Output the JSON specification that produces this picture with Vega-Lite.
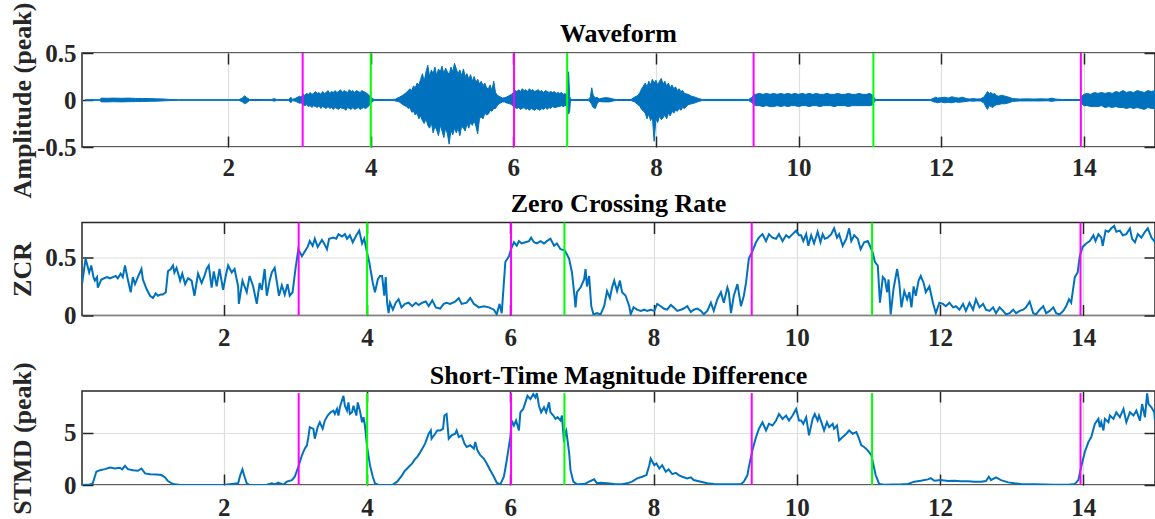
{
  "$schema": "https://vega.github.io/schema/vega-lite/v6.json",
  "padding": {"left": 8, "top": 1, "right": 0, "bottom": 0},
  "spacing": 75.5,
  "bounds": "flush",
  "config": {
    "view": {"stroke": "#262626", "strokeWidth": 1.5},
    "title": {"font": "Liberation Serif", "fontSize": 26, "fontWeight": "bold", "color": "#000000", "anchor": "middle"},
    "axis": {
      "labelFont": "Liberation Serif", "labelFontSize": 25, "labelFontWeight": "bold", "labelColor": "#262626",
      "titleFont": "Liberation Serif", "titleFontSize": 26, "titleFontWeight": "bold", "titleColor": "#262626",
      "tickColor": "#262626", "tickWidth": 1.5, "tickSize": -11, "domain": false,
      "gridColor": "#dedede", "gridWidth": 1.2
    },
    "legend": {"disable": true}
  },
  "datasets": {
    "markers": [
      {"t": 3.045, "kind": "start"}, {"t": 4.0, "kind": "end"},
      {"t": 6.01, "kind": "start"}, {"t": 6.755, "kind": "end"},
      {"t": 9.37, "kind": "start"}, {"t": 11.05, "kind": "end"},
      {"t": 13.96, "kind": "start"}
    ],
    "wave": [
      {"t":0,"h":0.003,"l":-0.003},{"t":0.2,"h":0.003,"l":-0.003},{"t":0.22,"h":0.02,"l":-0.02},{"t":0.3,"h":0.018,"l":-0.02},{"t":0.4,"h":0.02,"l":-0.018},{"t":0.5,"h":0.018,"l":-0.02},{"t":0.6,"h":0.02,"l":-0.018},{"t":0.7,"h":0.017,"l":-0.017},{"t":0.8,"h":0.016,"l":-0.016},{"t":0.9,"h":0.015,"l":-0.014},{"t":1.0,"h":0.012,"l":-0.012},{"t":1.1,"h":0.01,"l":-0.009},{"t":1.2,"h":0.005,"l":-0.005},{"t":1.3,"h":0.003,"l":-0.003},
      {"t":2.15,"h":0.003,"l":-0.003},{"t":2.2,"h":0.02,"l":-0.02},{"t":2.23,"h":0.045,"l":-0.04},{"t":2.26,"h":0.025,"l":-0.03},{"t":2.3,"h":0.006,"l":-0.005},{"t":2.6,"h":0.004,"l":-0.004},{"t":2.65,"h":0.015,"l":-0.012},{"t":2.68,"h":0.004,"l":-0.004},{"t":2.85,"h":0.004,"l":-0.004},{"t":2.88,"h":0.03,"l":-0.03},{"t":2.9,"h":0.006,"l":-0.006},{"t":2.95,"h":0.02,"l":-0.015},{"t":3.0,"h":0.04,"l":-0.035},
      {"t":3.025,"h":0.03,"l":-0.03},{"t":3.05,"h":0.06,"l":-0.05},{"t":3.075,"h":0.05,"l":-0.06},{"t":3.1,"h":0.07,"l":-0.05},{"t":3.125,"h":0.06,"l":-0.07},{"t":3.15,"h":0.08,"l":-0.06},{"t":3.175,"h":0.06,"l":-0.08},{"t":3.2,"h":0.07,"l":-0.06},{"t":3.225,"h":0.09,"l":-0.07},{"t":3.25,"h":0.07,"l":-0.08},{"t":3.275,"h":0.08,"l":-0.06},{"t":3.3,"h":0.06,"l":-0.09},{"t":3.325,"h":0.09,"l":-0.07},{"t":3.35,"h":0.07,"l":-0.08},{"t":3.375,"h":0.08,"l":-0.09},{"t":3.4,"h":0.1,"l":-0.07},{"t":3.425,"h":0.07,"l":-0.09},{"t":3.45,"h":0.09,"l":-0.08},{"t":3.475,"h":0.08,"l":-0.1},{"t":3.5,"h":0.1,"l":-0.08},{"t":3.525,"h":0.08,"l":-0.09},{"t":3.55,"h":0.09,"l":-0.1},{"t":3.575,"h":0.11,"l":-0.08},{"t":3.6,"h":0.08,"l":-0.09},{"t":3.625,"h":0.1,"l":-0.09},{"t":3.65,"h":0.09,"l":-0.11},{"t":3.675,"h":0.08,"l":-0.08},{"t":3.7,"h":0.11,"l":-0.09},{"t":3.725,"h":0.09,"l":-0.1},{"t":3.75,"h":0.1,"l":-0.08},{"t":3.775,"h":0.08,"l":-0.1},{"t":3.8,"h":0.1,"l":-0.09},{"t":3.825,"h":0.09,"l":-0.08},{"t":3.85,"h":0.08,"l":-0.1},{"t":3.875,"h":0.1,"l":-0.09},{"t":3.9,"h":0.09,"l":-0.08},{"t":3.925,"h":0.08,"l":-0.09},{"t":3.95,"h":0.07,"l":-0.08},{"t":3.975,"h":0.05,"l":-0.06},{"t":4.0,"h":0.03,"l":-0.04},{"t":4.025,"h":0.015,"l":-0.015},{"t":4.05,"h":0.005,"l":-0.005},{"t":4.3,"h":0.004,"l":-0.004},
      {"t":4.35,"h":0.01,"l":-0.01},{"t":4.4,"h":0.03,"l":-0.02},{"t":4.45,"h":0.05,"l":-0.05},{"t":4.5,"h":0.08,"l":-0.07},{"t":4.525,"h":0.1,"l":-0.09},{"t":4.55,"h":0.12,"l":-0.08},{"t":4.575,"h":0.1,"l":-0.13},{"t":4.6,"h":0.15,"l":-0.12},{"t":4.625,"h":0.13,"l":-0.16},{"t":4.65,"h":0.18,"l":-0.14},{"t":4.675,"h":0.16,"l":-0.2},{"t":4.7,"h":0.22,"l":-0.17},{"t":4.725,"h":0.28,"l":-0.22},{"t":4.75,"h":0.2,"l":-0.25},{"t":4.775,"h":0.3,"l":-0.2},{"t":4.8,"h":0.37,"l":-0.27},{"t":4.825,"h":0.25,"l":-0.3},{"t":4.85,"h":0.32,"l":-0.24},{"t":4.875,"h":0.28,"l":-0.35},{"t":4.9,"h":0.35,"l":-0.28},{"t":4.925,"h":0.26,"l":-0.32},{"t":4.95,"h":0.33,"l":-0.38},{"t":4.975,"h":0.3,"l":-0.27},{"t":5.0,"h":0.36,"l":-0.33},{"t":5.025,"h":0.28,"l":-0.4},{"t":5.05,"h":0.34,"l":-0.3},{"t":5.075,"h":0.3,"l":-0.36},{"t":5.1,"h":0.27,"l":-0.47},{"t":5.125,"h":0.35,"l":-0.32},{"t":5.15,"h":0.3,"l":-0.37},{"t":5.175,"h":0.39,"l":-0.3},{"t":5.2,"h":0.33,"l":-0.35},{"t":5.225,"h":0.28,"l":-0.3},{"t":5.25,"h":0.32,"l":-0.38},{"t":5.275,"h":0.26,"l":-0.28},{"t":5.3,"h":0.33,"l":-0.3},{"t":5.325,"h":0.25,"l":-0.33},{"t":5.35,"h":0.28,"l":-0.25},{"t":5.375,"h":0.22,"l":-0.3},{"t":5.4,"h":0.27,"l":-0.24},{"t":5.425,"h":0.2,"l":-0.27},{"t":5.45,"h":0.25,"l":-0.22},{"t":5.475,"h":0.19,"l":-0.28},{"t":5.5,"h":0.22,"l":-0.36},{"t":5.525,"h":0.17,"l":-0.2},{"t":5.55,"h":0.2,"l":-0.18},{"t":5.575,"h":0.15,"l":-0.2},{"t":5.6,"h":0.18,"l":-0.14},{"t":5.625,"h":0.13,"l":-0.16},{"t":5.65,"h":0.12,"l":-0.15},{"t":5.675,"h":0.16,"l":-0.11},{"t":5.7,"h":0.1,"l":-0.12},{"t":5.725,"h":0.2,"l":-0.09},{"t":5.75,"h":0.08,"l":-0.09},{"t":5.775,"h":0.05,"l":-0.06},{"t":5.8,"h":0.04,"l":-0.04},{"t":5.825,"h":0.03,"l":-0.03},{"t":5.85,"h":0.02,"l":-0.02},{"t":5.875,"h":0.025,"l":-0.02},{"t":5.9,"h":0.03,"l":-0.03},{"t":5.925,"h":0.04,"l":-0.035},{"t":5.95,"h":0.05,"l":-0.04},{"t":5.975,"h":0.06,"l":-0.05},
      {"t":6.0,"h":0.08,"l":-0.07},{"t":6.025,"h":0.1,"l":-0.08},{"t":6.05,"h":0.09,"l":-0.09},{"t":6.075,"h":0.11,"l":-0.08},{"t":6.1,"h":0.09,"l":-0.1},{"t":6.125,"h":0.12,"l":-0.09},{"t":6.15,"h":0.1,"l":-0.08},{"t":6.175,"h":0.11,"l":-0.1},{"t":6.2,"h":0.09,"l":-0.09},{"t":6.225,"h":0.12,"l":-0.11},{"t":6.25,"h":0.1,"l":-0.09},{"t":6.275,"h":0.11,"l":-0.1},{"t":6.3,"h":0.09,"l":-0.11},{"t":6.325,"h":0.1,"l":-0.09},{"t":6.35,"h":0.11,"l":-0.1},{"t":6.375,"h":0.09,"l":-0.11},{"t":6.4,"h":0.1,"l":-0.09},{"t":6.425,"h":0.08,"l":-0.1},{"t":6.45,"h":0.1,"l":-0.08},{"t":6.475,"h":0.09,"l":-0.1},{"t":6.5,"h":0.08,"l":-0.08},{"t":6.525,"h":0.09,"l":-0.09},{"t":6.55,"h":0.08,"l":-0.07},{"t":6.575,"h":0.09,"l":-0.08},{"t":6.6,"h":0.07,"l":-0.08},{"t":6.625,"h":0.08,"l":-0.07},{"t":6.65,"h":0.07,"l":-0.07},{"t":6.675,"h":0.08,"l":-0.06},{"t":6.7,"h":0.06,"l":-0.07},{"t":6.725,"h":0.07,"l":-0.06},{"t":6.75,"h":0.05,"l":-0.05},{"t":6.775,"h":0.3,"l":-0.15},{"t":6.79,"h":0.04,"l":-0.12},{"t":6.8,"h":0.01,"l":-0.01},{"t":6.825,"h":0.005,"l":-0.005},
      {"t":7.05,"h":0.005,"l":-0.005},{"t":7.08,"h":0.03,"l":-0.02},{"t":7.1,"h":0.13,"l":-0.05},{"t":7.12,"h":0.05,"l":-0.08},{"t":7.15,"h":0.02,"l":-0.09},{"t":7.175,"h":0.03,"l":-0.04},{"t":7.2,"h":0.01,"l":-0.015},{"t":7.25,"h":0.02,"l":-0.02},{"t":7.3,"h":0.025,"l":-0.02},{"t":7.35,"h":0.02,"l":-0.02},{"t":7.4,"h":0.01,"l":-0.01},{"t":7.45,"h":0.005,"l":-0.005},{"t":7.65,"h":0.005,"l":-0.005},{"t":7.7,"h":0.03,"l":-0.02},
      {"t":7.75,"h":0.05,"l":-0.05},{"t":7.775,"h":0.08,"l":-0.07},{"t":7.8,"h":0.12,"l":-0.1},{"t":7.825,"h":0.15,"l":-0.12},{"t":7.85,"h":0.18,"l":-0.14},{"t":7.875,"h":0.14,"l":-0.2},{"t":7.9,"h":0.2,"l":-0.15},{"t":7.925,"h":0.16,"l":-0.22},{"t":7.95,"h":0.22,"l":-0.18},{"t":7.975,"h":0.18,"l":-0.44},{"t":8.0,"h":0.21,"l":-0.2},{"t":8.025,"h":0.16,"l":-0.24},{"t":8.05,"h":0.2,"l":-0.17},{"t":8.075,"h":0.23,"l":-0.21},{"t":8.1,"h":0.17,"l":-0.19},{"t":8.125,"h":0.2,"l":-0.16},{"t":8.15,"h":0.15,"l":-0.2},{"t":8.175,"h":0.18,"l":-0.14},{"t":8.2,"h":0.13,"l":-0.17},{"t":8.225,"h":0.16,"l":-0.12},{"t":8.25,"h":0.12,"l":-0.14},{"t":8.275,"h":0.14,"l":-0.11},{"t":8.3,"h":0.1,"l":-0.12},{"t":8.325,"h":0.12,"l":-0.09},{"t":8.35,"h":0.09,"l":-0.11},{"t":8.375,"h":0.1,"l":-0.08},{"t":8.4,"h":0.07,"l":-0.09},{"t":8.45,"h":0.06,"l":-0.05},{"t":8.5,"h":0.04,"l":-0.04},{"t":8.55,"h":0.03,"l":-0.03},{"t":8.6,"h":0.015,"l":-0.015},{"t":8.65,"h":0.006,"l":-0.006},
      {"t":9.3,"h":0.006,"l":-0.006},{"t":9.35,"h":0.03,"l":-0.03},{"t":9.375,"h":0.06,"l":-0.05},{"t":9.4,"h":0.06,"l":-0.06},{"t":9.45,"h":0.07,"l":-0.06},{"t":9.5,"h":0.06,"l":-0.07},{"t":9.55,"h":0.07,"l":-0.06},{"t":9.6,"h":0.06,"l":-0.07},{"t":9.65,"h":0.07,"l":-0.07},{"t":9.7,"h":0.06,"l":-0.06},{"t":9.75,"h":0.07,"l":-0.07},{"t":9.8,"h":0.06,"l":-0.06},{"t":9.85,"h":0.07,"l":-0.07},{"t":9.9,"h":0.06,"l":-0.06},{"t":9.95,"h":0.07,"l":-0.06},{"t":10.0,"h":0.06,"l":-0.07},{"t":10.05,"h":0.07,"l":-0.06},{"t":10.1,"h":0.06,"l":-0.06},{"t":10.15,"h":0.07,"l":-0.07},{"t":10.2,"h":0.06,"l":-0.06},{"t":10.25,"h":0.07,"l":-0.06},{"t":10.3,"h":0.06,"l":-0.07},{"t":10.35,"h":0.06,"l":-0.06},{"t":10.4,"h":0.07,"l":-0.06},{"t":10.45,"h":0.06,"l":-0.06},{"t":10.5,"h":0.06,"l":-0.07},{"t":10.55,"h":0.07,"l":-0.06},{"t":10.6,"h":0.06,"l":-0.06},{"t":10.65,"h":0.06,"l":-0.06},{"t":10.7,"h":0.07,"l":-0.07},{"t":10.75,"h":0.06,"l":-0.06},{"t":10.8,"h":0.06,"l":-0.06},{"t":10.85,"h":0.07,"l":-0.06},{"t":10.9,"h":0.06,"l":-0.06},{"t":10.95,"h":0.06,"l":-0.06},{"t":11.0,"h":0.07,"l":-0.06},{"t":11.04,"h":0.05,"l":-0.05},{"t":11.07,"h":0.01,"l":-0.01},{"t":11.1,"h":0.005,"l":-0.005},
      {"t":11.85,"h":0.005,"l":-0.005},{"t":11.9,"h":0.02,"l":-0.02},{"t":11.925,"h":0.03,"l":-0.025},{"t":11.95,"h":0.02,"l":-0.03},{"t":12.0,"h":0.025,"l":-0.02},{"t":12.05,"h":0.03,"l":-0.03},{"t":12.1,"h":0.02,"l":-0.025},{"t":12.15,"h":0.035,"l":-0.03},{"t":12.2,"h":0.025,"l":-0.02},{"t":12.25,"h":0.02,"l":-0.025},{"t":12.3,"h":0.03,"l":-0.02},{"t":12.35,"h":0.015,"l":-0.015},{"t":12.4,"h":0.01,"l":-0.01},{"t":12.45,"h":0.015,"l":-0.012},{"t":12.5,"h":0.01,"l":-0.01},{"t":12.55,"h":0.012,"l":-0.01},{"t":12.6,"h":0.03,"l":-0.03},{"t":12.625,"h":0.06,"l":-0.07},{"t":12.65,"h":0.09,"l":-0.1},{"t":12.675,"h":0.07,"l":-0.06},{"t":12.7,"h":0.08,"l":-0.07},{"t":12.725,"h":0.06,"l":-0.08},{"t":12.75,"h":0.07,"l":-0.06},{"t":12.775,"h":0.05,"l":-0.05},{"t":12.8,"h":0.04,"l":-0.05},{"t":12.85,"h":0.05,"l":-0.04},{"t":12.9,"h":0.04,"l":-0.04},{"t":12.95,"h":0.03,"l":-0.03},{"t":13.0,"h":0.015,"l":-0.015},{"t":13.1,"h":0.01,"l":-0.01},{"t":13.2,"h":0.012,"l":-0.01},{"t":13.3,"h":0.01,"l":-0.01},{"t":13.4,"h":0.012,"l":-0.01},{"t":13.5,"h":0.01,"l":-0.008},{"t":13.55,"h":0.02,"l":-0.015},{"t":13.6,"h":0.01,"l":-0.008},{"t":13.7,"h":0.005,"l":-0.005},
      {"t":13.95,"h":0.005,"l":-0.005},{"t":13.975,"h":0.04,"l":-0.04},{"t":14.0,"h":0.06,"l":-0.06},{"t":14.05,"h":0.07,"l":-0.06},{"t":14.1,"h":0.06,"l":-0.07},{"t":14.15,"h":0.08,"l":-0.07},{"t":14.2,"h":0.07,"l":-0.07},{"t":14.25,"h":0.08,"l":-0.06},{"t":14.3,"h":0.07,"l":-0.08},{"t":14.35,"h":0.08,"l":-0.07},{"t":14.4,"h":0.07,"l":-0.08},{"t":14.45,"h":0.09,"l":-0.07},{"t":14.5,"h":0.08,"l":-0.08},{"t":14.55,"h":0.1,"l":-0.08},{"t":14.6,"h":0.08,"l":-0.09},{"t":14.65,"h":0.09,"l":-0.08},{"t":14.7,"h":0.08,"l":-0.09},{"t":14.75,"h":0.1,"l":-0.08},{"t":14.8,"h":0.09,"l":-0.09},{"t":14.85,"h":0.08,"l":-0.1},{"t":14.9,"h":0.1,"l":-0.08},{"t":14.95,"h":0.09,"l":-0.09},{"t":15.0,"h":0.1,"l":-0.09}
    ],
    "zcr": [
      {"t":0.02,"v":0.27},{"t":0.05,"v":0.4},{"t":0.07,"v":0.49},{"t":0.1,"v":0.42},{"t":0.12,"v":0.37},{"t":0.15,"v":0.43},{"t":0.18,"v":0.33},{"t":0.2,"v":0.3},{"t":0.23,"v":0.33},{"t":0.24,"v":0.24},{"t":0.27,"v":0.28},{"t":0.29,"v":0.31},{"t":0.33,"v":0.32},{"t":0.37,"v":0.33},{"t":0.41,"v":0.32},{"t":0.45,"v":0.33},{"t":0.49,"v":0.34},{"t":0.52,"v":0.32},{"t":0.56,"v":0.36},{"t":0.59,"v":0.33},{"t":0.62,"v":0.43},{"t":0.66,"v":0.31},{"t":0.7,"v":0.2},{"t":0.73,"v":0.33},{"t":0.76,"v":0.27},{"t":0.8,"v":0.33},{"t":0.85,"v":0.4},{"t":0.87,"v":0.31},{"t":0.92,"v":0.23},{"t":0.97,"v":0.17},{"t":1.01,"v":0.15},{"t":1.05,"v":0.19},{"t":1.08,"v":0.17},{"t":1.12,"v":0.18},{"t":1.15,"v":0.18},{"t":1.19,"v":0.2},{"t":1.22,"v":0.38},{"t":1.26,"v":0.4},{"t":1.29,"v":0.43},{"t":1.31,"v":0.37},{"t":1.34,"v":0.41},{"t":1.39,"v":0.3},{"t":1.42,"v":0.36},{"t":1.46,"v":0.27},{"t":1.5,"v":0.32},{"t":1.55,"v":0.3},{"t":1.59,"v":0.17},{"t":1.64,"v":0.36},{"t":1.69,"v":0.28},{"t":1.73,"v":0.34},{"t":1.76,"v":0.4},{"t":1.79,"v":0.43},{"t":1.83,"v":0.24},{"t":1.86,"v":0.38},{"t":1.9,"v":0.25},{"t":1.94,"v":0.4},{"t":1.99,"v":0.22},{"t":2.03,"v":0.35},{"t":2.06,"v":0.43},{"t":2.11,"v":0.37},{"t":2.15,"v":0.4},{"t":2.2,"v":0.25},{"t":2.21,"v":0.1},{"t":2.26,"v":0.3},{"t":2.32,"v":0.2},{"t":2.36,"v":0.34},{"t":2.41,"v":0.25},{"t":2.46,"v":0.1},{"t":2.5,"v":0.28},{"t":2.53,"v":0.22},{"t":2.57,"v":0.4},{"t":2.6,"v":0.17},{"t":2.64,"v":0.3},{"t":2.67,"v":0.37},{"t":2.71,"v":0.41},{"t":2.77,"v":0.17},{"t":2.81,"v":0.26},{"t":2.85,"v":0.18},{"t":2.89,"v":0.27},{"t":2.92,"v":0.17},{"t":2.96,"v":0.2},{"t":3.0,"v":0.4},{"t":3.04,"v":0.57},{"t":3.09,"v":0.51},{"t":3.13,"v":0.55},{"t":3.17,"v":0.59},{"t":3.2,"v":0.64},{"t":3.24,"v":0.6},{"t":3.27,"v":0.66},{"t":3.31,"v":0.59},{"t":3.37,"v":0.65},{"t":3.4,"v":0.62},{"t":3.44,"v":0.57},{"t":3.47,"v":0.66},{"t":3.53,"v":0.67},{"t":3.57,"v":0.66},{"t":3.6,"v":0.7},{"t":3.65,"v":0.68},{"t":3.69,"v":0.7},{"t":3.72,"v":0.66},{"t":3.76,"v":0.69},{"t":3.8,"v":0.63},{"t":3.85,"v":0.69},{"t":3.89,"v":0.73},{"t":3.93,"v":0.62},{"t":3.96,"v":0.66},{"t":4.0,"v":0.54},{"t":4.03,"v":0.46},{"t":4.08,"v":0.28},{"t":4.11,"v":0.2},{"t":4.15,"v":0.31},{"t":4.18,"v":0.34},{"t":4.21,"v":0.34},{"t":4.24,"v":0.17},{"t":4.26,"v":0.33},{"t":4.28,"v":0.11},{"t":4.3,"v":0.02},{"t":4.32,"v":0.11},{"t":4.36,"v":0.05},{"t":4.4,"v":0.11},{"t":4.44,"v":0.14},{"t":4.48,"v":0.07},{"t":4.53,"v":0.1},{"t":4.58,"v":0.11},{"t":4.63,"v":0.08},{"t":4.68,"v":0.11},{"t":4.72,"v":0.09},{"t":4.77,"v":0.11},{"t":4.82,"v":0.12},{"t":4.86,"v":0.08},{"t":4.91,"v":0.13},{"t":4.96,"v":0.07},{"t":5.02,"v":0.06},{"t":5.07,"v":0.1},{"t":5.11,"v":0.11},
      {"t":5.16,"v":0.1},{"t":5.23,"v":0.12},{"t":5.28,"v":0.15},{"t":5.32,"v":0.1},{"t":5.39,"v":0.11},{"t":5.44,"v":0.15},{"t":5.49,"v":0.1},{"t":5.56,"v":0.07},{"t":5.63,"v":0.08},{"t":5.7,"v":0.07},{"t":5.77,"v":0.05},{"t":5.81,"v":0.01},{"t":5.85,"v":0.1},{"t":5.88,"v":0.02},{"t":5.93,"v":0.46},{"t":5.98,"v":0.51},{"t":6.01,"v":0.57},{"t":6.05,"v":0.63},{"t":6.09,"v":0.6},{"t":6.12,"v":0.64},{"t":6.16,"v":0.62},{"t":6.21,"v":0.63},{"t":6.26,"v":0.64},{"t":6.29,"v":0.67},{"t":6.33,"v":0.63},{"t":6.37,"v":0.62},{"t":6.42,"v":0.64},{"t":6.47,"v":0.62},{"t":6.51,"v":0.64},{"t":6.56,"v":0.66},{"t":6.61,"v":0.6},{"t":6.65,"v":0.62},{"t":6.7,"v":0.57},{"t":6.76,"v":0.56},{"t":6.82,"v":0.49},{"t":6.86,"v":0.37},{"t":6.89,"v":0.2},{"t":6.91,"v":0.07},{"t":6.93,"v":0.2},{"t":6.98,"v":0.24},{"t":7.03,"v":0.31},{"t":7.05,"v":0.4},{"t":7.07,"v":0.25},{"t":7.1,"v":0.34},{"t":7.13,"v":0.08},{"t":7.16,"v":0.01},{"t":7.21,"v":0.02},{"t":7.26,"v":0.01},{"t":7.31,"v":0.08},{"t":7.35,"v":0.21},{"t":7.39,"v":0.15},{"t":7.42,"v":0.24},{"t":7.45,"v":0.3},{"t":7.49,"v":0.21},{"t":7.53,"v":0.3},{"t":7.56,"v":0.2},{"t":7.61,"v":0.17},{"t":7.66,"v":0.08},{"t":7.68,"v":0.01},{"t":7.72,"v":0.07},{"t":7.77,"v":0.05},{"t":7.82,"v":0.04},{"t":7.87,"v":0.05},{"t":7.91,"v":0.04},{"t":7.96,"v":0.05},{"t":8.01,"v":0.04},{"t":8.05,"v":0.1},{"t":8.1,"v":0.08},{"t":8.14,"v":0.06},{"t":8.19,"v":0.05},{"t":8.24,"v":0.09},{"t":8.28,"v":0.07},{"t":8.33,"v":0.04},{"t":8.38,"v":0.05},{"t":8.42,"v":0.06},{"t":8.47,"v":0.08},{"t":8.52,"v":0.03},{"t":8.56,"v":0.05},{"t":8.61,"v":0.06},{"t":8.66,"v":0.04},{"t":8.7,"v":0.01},{"t":8.75,"v":0.04},{"t":8.8,"v":0.11},{"t":8.84,"v":0.04},{"t":8.89,"v":0.14},{"t":8.94,"v":0.2},{"t":8.98,"v":0.11},{"t":9.03,"v":0.24},{"t":9.05,"v":0.2},{"t":9.08,"v":0.02},{"t":9.12,"v":0.17},{"t":9.17,"v":0.27},{"t":9.22,"v":0.08},{"t":9.26,"v":0.17},{"t":9.29,"v":0.28},{"t":9.33,"v":0.49},{"t":9.37,"v":0.54},{"t":9.43,"v":0.63},{"t":9.47,"v":0.67},{"t":9.52,"v":0.7},{"t":9.57,"v":0.64},{"t":9.61,"v":0.7},{"t":9.66,"v":0.67},{"t":9.71,"v":0.66},{"t":9.75,"v":0.7},{"t":9.8,"v":0.64},{"t":9.85,"v":0.69},{"t":9.89,"v":0.67},{"t":9.94,"v":0.7},{"t":9.99,"v":0.73},{"t":10.03,"v":0.69},
      {"t":10.06,"v":0.69},{"t":10.09,"v":0.64},{"t":10.13,"v":0.7},{"t":10.16,"v":0.6},{"t":10.2,"v":0.69},{"t":10.24,"v":0.62},{"t":10.29,"v":0.72},{"t":10.33,"v":0.63},{"t":10.36,"v":0.7},{"t":10.39,"v":0.66},{"t":10.43,"v":0.67},{"t":10.48,"v":0.7},{"t":10.52,"v":0.75},{"t":10.56,"v":0.67},{"t":10.59,"v":0.7},{"t":10.64,"v":0.6},{"t":10.69,"v":0.66},{"t":10.73,"v":0.75},{"t":10.76,"v":0.64},{"t":10.8,"v":0.69},{"t":10.85,"v":0.66},{"t":10.89,"v":0.57},{"t":10.94,"v":0.63},{"t":10.99,"v":0.64},{"t":11.02,"v":0.6},{"t":11.06,"v":0.54},{"t":11.09,"v":0.46},{"t":11.13,"v":0.43},{"t":11.16,"v":0.11},{"t":11.2,"v":0.33},{"t":11.23,"v":0.31},{"t":11.26,"v":0.2},{"t":11.28,"v":0.31},{"t":11.31,"v":0.01},{"t":11.35,"v":0.23},{"t":11.4,"v":0.4},{"t":11.43,"v":0.28},{"t":11.46,"v":0.07},{"t":11.5,"v":0.21},{"t":11.54,"v":0.14},{"t":11.57,"v":0.2},{"t":11.6,"v":0.07},{"t":11.63,"v":0.25},{"t":11.66,"v":0.17},{"t":11.7,"v":0.3},{"t":11.73,"v":0.34},{"t":11.77,"v":0.28},{"t":11.8,"v":0.2},{"t":11.85,"v":0.25},{"t":11.9,"v":0.11},{"t":11.94,"v":0.02},{"t":11.99,"v":0.11},{"t":12.04,"v":0.1},{"t":12.08,"v":0.08},{"t":12.13,"v":0.11},{"t":12.18,"v":0.07},{"t":12.22,"v":0.08},{"t":12.27,"v":0.05},{"t":12.32,"v":0.1},{"t":12.36,"v":0.04},{"t":12.41,"v":0.11},{"t":12.46,"v":0.05},{"t":12.5,"v":0.14},{"t":12.55,"v":0.07},{"t":12.6,"v":0.1},{"t":12.64,"v":0.05},{"t":12.69,"v":0.04},{"t":12.74,"v":0.07},{"t":12.78,"v":0.02},{"t":12.83,"v":0.07},{"t":12.88,"v":0.04},{"t":12.92,"v":0.01},{"t":12.97,"v":0.02},{"t":13.02,"v":0.05},{"t":13.06,"v":0.02},{"t":13.11,"v":0.04},{"t":13.16,"v":0.05},{"t":13.2,"v":0.07},{"t":13.25,"v":0.12},{"t":13.3,"v":0.02},{"t":13.34,"v":0.01},{"t":13.39,"v":0.05},{"t":13.44,"v":0.08},{"t":13.48,"v":0.02},{"t":13.53,"v":0.04},{"t":13.58,"v":0.07},{"t":13.62,"v":0.02},{"t":13.67,"v":0.01},{"t":13.72,"v":0.04},{"t":13.76,"v":0.08},{"t":13.8,"v":0.14},{"t":13.83,"v":0.11},{"t":13.88,"v":0.33},{"t":13.92,"v":0.37},{"t":13.95,"v":0.51},{"t":13.99,"v":0.59},{"t":14.04,"v":0.62},{"t":14.09,"v":0.64},{"t":14.14,"v":0.69},{"t":14.17,"v":0.64},{"t":14.21,"v":0.7},{"t":14.25,"v":0.67},{"t":14.27,"v":0.6},{"t":14.31,"v":0.73},{"t":14.35,"v":0.72},{"t":14.39,"v":0.75},{"t":14.43,"v":0.77},{"t":14.46,"v":0.72},{"t":14.51,"v":0.73},{"t":14.55,"v":0.69},{"t":14.6,"v":0.7},{"t":14.65,"v":0.75},{"t":14.68,"v":0.66},{"t":14.72,"v":0.63},{"t":14.76,"v":0.7},{"t":14.81,"v":0.67},{"t":14.86,"v":0.72},{"t":14.9,"v":0.75},{"t":14.95,"v":0.67},{"t":14.99,"v":0.64},{"t":15.0,"v":0.66}
    ],
    "stmd": [
      {"t":0.02,"v":0.0},{"t":0.13,"v":0.06},{"t":0.17,"v":0.16},{"t":0.22,"v":1.27},{"t":0.27,"v":1.42},{"t":0.34,"v":1.52},{"t":0.41,"v":1.68},{"t":0.48,"v":1.58},{"t":0.55,"v":1.65},{"t":0.58,"v":1.49},{"t":0.62,"v":1.84},{"t":0.66,"v":1.52},{"t":0.73,"v":1.42},{"t":0.8,"v":1.36},{"t":0.85,"v":1.58},{"t":0.9,"v":1.11},{"t":0.97,"v":1.04},{"t":1.06,"v":1.01},{"t":1.13,"v":0.95},{"t":1.18,"v":0.73},{"t":1.22,"v":0.38},{"t":1.29,"v":0.09},{"t":1.39,"v":0.0},{"t":1.99,"v":0.0},{"t":2.2,"v":0.16},{"t":2.23,"v":0.95},{"t":2.26,"v":1.49},{"t":2.29,"v":0.79},{"t":2.32,"v":0.16},{"t":2.36,"v":0.0},{"t":2.6,"v":0.03},{"t":2.67,"v":0.16},{"t":2.71,"v":0.06},{"t":2.76,"v":0.22},{"t":2.83,"v":0.03},{"t":2.88,"v":0.32},{"t":2.95,"v":0.47},{"t":2.99,"v":0.79},{"t":3.04,"v":1.74},{"t":3.09,"v":2.85},{"t":3.13,"v":3.48},{"t":3.16,"v":3.8},{"t":3.18,"v":4.59},{"t":3.2,"v":5.54},{"t":3.25,"v":5.38},{"t":3.27,"v":4.43},{"t":3.31,"v":5.54},{"t":3.34,"v":6.01},{"t":3.38,"v":5.38},{"t":3.41,"v":6.17},{"t":3.45,"v":6.65},{"t":3.49,"v":6.96},{"t":3.53,"v":7.12},{"t":3.55,"v":6.8},{"t":3.58,"v":7.28},{"t":3.6,"v":6.65},{"t":3.62,"v":7.44},{"t":3.67,"v":8.54},{"t":3.69,"v":7.59},{"t":3.72,"v":7.12},{"t":3.74,"v":7.91},{"t":3.76,"v":6.8},{"t":3.79,"v":6.96},{"t":3.81,"v":7.59},{"t":3.85,"v":6.65},{"t":3.87,"v":7.91},{"t":3.9,"v":7.12},{"t":3.93,"v":6.01},{"t":3.95,"v":6.49},{"t":3.97,"v":5.7},{"t":4.0,"v":3.64},{"t":4.04,"v":1.9},{"t":4.08,"v":0.79},{"t":4.11,"v":0.16},{"t":4.16,"v":0.0},{"t":4.35,"v":0.0},{"t":4.42,"v":0.32},{"t":4.49,"v":0.95},{"t":4.52,"v":1.3},{"t":4.56,"v":1.58},{"t":4.59,"v":1.8},{"t":4.63,"v":2.06},{"t":4.66,"v":2.4},{"t":4.7,"v":2.69},{"t":4.73,"v":3.0},{"t":4.77,"v":3.48},{"t":4.81,"v":3.96},{"t":4.86,"v":4.91},{"t":4.89,"v":5.22},{"t":4.9,"v":4.43},{"t":4.95,"v":4.91},{"t":4.98,"v":5.22},
      {"t":5.02,"v":5.22},{"t":5.06,"v":5.38},{"t":5.08,"v":6.65},{"t":5.11,"v":6.8},{"t":5.14,"v":4.43},{"t":5.18,"v":4.75},{"t":5.23,"v":4.91},{"t":5.25,"v":5.22},{"t":5.28,"v":4.59},{"t":5.32,"v":4.75},{"t":5.36,"v":3.96},{"t":5.39,"v":3.64},{"t":5.44,"v":3.8},{"t":5.49,"v":3.48},{"t":5.51,"v":4.11},{"t":5.54,"v":3.32},{"t":5.58,"v":2.85},{"t":5.63,"v":2.53},{"t":5.67,"v":2.06},{"t":5.72,"v":1.42},{"t":5.77,"v":0.79},{"t":5.81,"v":0.22},{"t":5.86,"v":0.06},{"t":5.91,"v":0.79},{"t":5.95,"v":2.37},{"t":6.0,"v":4.59},{"t":6.02,"v":6.17},{"t":6.05,"v":5.7},{"t":6.08,"v":6.17},{"t":6.12,"v":5.22},{"t":6.14,"v":6.96},{"t":6.18,"v":7.28},{"t":6.21,"v":7.91},{"t":6.24,"v":8.54},{"t":6.28,"v":8.23},{"t":6.32,"v":8.7},{"t":6.35,"v":8.39},{"t":6.37,"v":8.8},{"t":6.4,"v":7.59},{"t":6.43,"v":6.96},{"t":6.47,"v":7.44},{"t":6.5,"v":6.96},{"t":6.54,"v":7.91},{"t":6.56,"v":6.96},{"t":6.6,"v":6.65},{"t":6.63,"v":6.33},{"t":6.66,"v":6.49},{"t":6.7,"v":6.17},{"t":6.72,"v":6.65},{"t":6.75,"v":4.11},{"t":6.76,"v":4.91},{"t":6.78,"v":5.22},{"t":6.82,"v":3.16},{"t":6.84,"v":1.42},{"t":6.88,"v":0.32},{"t":6.93,"v":0.06},{"t":7.03,"v":0.09},{"t":7.1,"v":0.32},{"t":7.17,"v":0.54},{"t":7.21,"v":0.16},{"t":7.26,"v":0.22},{"t":7.35,"v":0.16},{"t":7.45,"v":0.09},{"t":7.54,"v":0.06},{"t":7.63,"v":0.16},{"t":7.7,"v":0.32},{"t":7.77,"v":0.63},{"t":7.84,"v":0.79},{"t":7.9,"v":0.95},{"t":7.94,"v":1.9},{"t":7.96,"v":2.53},{"t":8.01,"v":1.9},{"t":8.04,"v":2.06},{"t":8.08,"v":1.58},{"t":8.12,"v":1.9},{"t":8.17,"v":1.27},{"t":8.21,"v":1.49},{"t":8.26,"v":1.04},{"t":8.31,"v":1.17},{"t":8.35,"v":0.95},{"t":8.4,"v":0.79},{"t":8.47,"v":0.63},{"t":8.52,"v":0.73},{"t":8.56,"v":0.47},{"t":8.66,"v":0.32},{"t":8.75,"v":0.16},{"t":8.84,"v":0.09},{"t":9.03,"v":0.06},{"t":9.22,"v":0.09},{"t":9.26,"v":0.32},{"t":9.31,"v":0.95},{"t":9.33,"v":1.74},{"t":9.38,"v":3.32},{"t":9.43,"v":4.59},{"t":9.47,"v":5.38},{"t":9.52,"v":6.01},{"t":9.57,"v":5.22},{"t":9.61,"v":5.85},{"t":9.66,"v":5.7},{"t":9.71,"v":6.17},{"t":9.75,"v":6.8},{"t":9.8,"v":6.33},{"t":9.85,"v":6.65},{"t":9.89,"v":6.17},{"t":9.94,"v":6.65},{"t":9.99,"v":7.28},{"t":10.03,"v":6.17},
      {"t":10.06,"v":6.17},{"t":10.09,"v":5.85},{"t":10.13,"v":6.49},{"t":10.17,"v":4.75},{"t":10.22,"v":6.33},{"t":10.25,"v":6.8},{"t":10.29,"v":6.17},{"t":10.31,"v":6.65},{"t":10.35,"v":5.85},{"t":10.38,"v":5.22},{"t":10.42,"v":6.01},{"t":10.45,"v":5.54},{"t":10.5,"v":5.85},{"t":10.52,"v":5.38},{"t":10.56,"v":5.7},{"t":10.59,"v":4.27},{"t":10.64,"v":4.59},{"t":10.69,"v":4.91},{"t":10.73,"v":5.22},{"t":10.78,"v":4.91},{"t":10.83,"v":5.06},{"t":10.86,"v":4.59},{"t":10.9,"v":3.8},{"t":10.94,"v":3.64},{"t":10.99,"v":3.32},{"t":11.04,"v":2.85},{"t":11.06,"v":2.22},{"t":11.1,"v":0.95},{"t":11.15,"v":0.09},{"t":11.22,"v":0.03},{"t":11.46,"v":0.06},{"t":11.55,"v":0.09},{"t":11.64,"v":0.32},{"t":11.73,"v":0.41},{"t":11.83,"v":0.54},{"t":11.87,"v":0.66},{"t":11.92,"v":0.41},{"t":12.01,"v":0.47},{"t":12.11,"v":0.38},{"t":12.2,"v":0.41},{"t":12.29,"v":0.35},{"t":12.39,"v":0.35},{"t":12.48,"v":0.32},{"t":12.57,"v":0.32},{"t":12.64,"v":0.38},{"t":12.68,"v":0.79},{"t":12.71,"v":0.47},{"t":12.78,"v":0.73},{"t":12.85,"v":0.47},{"t":12.95,"v":0.25},{"t":13.04,"v":0.16},{"t":13.13,"v":0.09},{"t":13.32,"v":0.06},{"t":13.6,"v":0.03},{"t":13.79,"v":0.03},{"t":13.88,"v":0.09},{"t":13.93,"v":0.47},{"t":13.97,"v":1.74},{"t":14.02,"v":3.16},{"t":14.07,"v":4.11},{"t":14.11,"v":4.59},{"t":14.16,"v":5.85},{"t":14.21,"v":6.33},{"t":14.23,"v":5.54},{"t":14.25,"v":6.01},{"t":14.28,"v":5.22},{"t":14.3,"v":6.33},{"t":14.35,"v":6.01},{"t":14.37,"v":6.65},{"t":14.42,"v":6.33},{"t":14.46,"v":6.96},{"t":14.51,"v":6.49},{"t":14.56,"v":7.28},{"t":14.6,"v":6.01},{"t":14.65,"v":6.96},{"t":14.7,"v":6.65},{"t":14.74,"v":7.12},{"t":14.79,"v":6.17},{"t":14.82,"v":7.75},{"t":14.86,"v":6.49},{"t":14.89,"v":8.77},{"t":14.91,"v":7.75},{"t":14.95,"v":7.44},{"t":14.99,"v":6.96},{"t":15.0,"v":6.17}
    ]
  },
  "vconcat": [
    {
      "width": 1073, "height": 94,
      "title": {"text": "Waveform", "offset": -44.5},
      "layer": [
        {
          "data": {"name": "wave"},
          "mark": {"type": "area", "color": "#0072BD", "stroke": "#0072BD", "strokeWidth": 1, "clip": true},
          "encoding": {
            "x": {"field": "t", "type": "quantitative", "scale": {"domain": [-0.05, 15]},
                  "axis": {"orient": "bottom", "values": [2,4,6,8,10,12,14], "grid": true, "title": null, "labelPadding": 19}},
            "y": {"field": "h", "type": "quantitative", "scale": {"domain": [-0.5, 0.5]},
                  "axis": {"orient": "left", "values": [-0.5, 0, 0.5], "format": "~g", "grid": true, "title": "Amplitude (peak)", "titleX": -47,
                           "labelPadding": 17, "labelExpr": "replace(datum.label, '\u2212', '-')"}},
            "y2": {"field": "l"}
          }
        },
        {
          "data": {"name": "markers"},
          "mark": {"type": "rule", "strokeWidth": 2},
          "encoding": {
            "x": {"field": "t", "type": "quantitative", "scale": {"domain": [-0.05, 15]},
                  "axis": {"orient": "top", "values": [2,4,6,8,10,12,14], "labels": false, "grid": false, "title": null}},
            "y": {"datum": -0.5, "type": "quantitative",
                  "axis": {"orient": "right", "values": [-0.5, 0, 0.5], "labels": false, "grid": false, "title": null}},
            "y2": {"datum": 0.5},
            "color": {"field": "kind", "type": "nominal", "scale": {"domain": ["start", "end"], "range": ["#FF00FF", "#00FF00"]}}
          }
        }
      ]
    },
    {
      "width": 1073, "height": 93,
      "title": {"text": "Zero Crossing Rate", "offset": 5},
      "layer": [
        {
          "data": {"name": "zcr"},
          "mark": {"type": "line", "color": "#0072BD", "strokeWidth": 2, "clip": true},
          "encoding": {
            "x": {"field": "t", "type": "quantitative", "scale": {"domain": [0.02, 15]},
                  "axis": {"orient": "bottom", "values": [2,4,6,8,10,12,14], "grid": true, "title": null, "labelPadding": 21}},
            "y": {"field": "v", "type": "quantitative", "scale": {"domain": [0, 0.8]},
                  "axis": {"orient": "left", "values": [0, 0.5], "format": "~g", "grid": true, "title": "ZCR", "titleX": -47, "labelPadding": 17}}
          }
        },
        {
          "data": {"name": "markers"},
          "mark": {"type": "rule", "strokeWidth": 2},
          "encoding": {
            "x": {"field": "t", "type": "quantitative", "scale": {"domain": [0.02, 15]},
                  "axis": {"orient": "top", "values": [2,4,6,8,10,12,14], "labels": false, "grid": false, "title": null}},
            "y": {"datum": 0, "type": "quantitative",
                  "axis": {"orient": "right", "values": [0, 0.5], "labels": false, "grid": false, "title": null}},
            "y2": {"datum": 0.8},
            "color": {"field": "kind", "type": "nominal", "scale": {"domain": ["start", "end"], "range": ["#FF00FF", "#00FF00"]}}
          }
        }
      ]
    },
    {
      "width": 1073, "height": 94,
      "title": {"text": "Short-Time Magnitude Difference", "offset": -27},
      "layer": [
        {
          "data": {"name": "stmd"},
          "mark": {"type": "line", "color": "#0072BD", "strokeWidth": 2, "clip": true},
          "encoding": {
            "x": {"field": "t", "type": "quantitative", "scale": {"domain": [0.02, 15]},
                  "axis": {"orient": "bottom", "values": [2,4,6,8,10,12,14], "grid": true, "title": null, "labelPadding": 21}},
            "y": {"field": "v", "type": "quantitative", "scale": {"domain": [0, 8.8]},
                  "axis": {"orient": "left", "values": [0, 5], "grid": true, "title": "STMD (peak)", "titleX": -47, "labelPadding": 17}}
          }
        },
        {
          "data": {"name": "markers"},
          "mark": {"type": "rule", "strokeWidth": 2},
          "encoding": {
            "x": {"field": "t", "type": "quantitative", "scale": {"domain": [0.02, 15]},
                  "axis": {"orient": "top", "values": [2,4,6,8,10,12,14], "labels": false, "grid": false, "title": null}},
            "y": {"datum": 0, "type": "quantitative",
                  "axis": {"orient": "right", "values": [0, 5], "labels": false, "grid": false, "title": null}},
            "y2": {"datum": 8.8},
            "color": {"field": "kind", "type": "nominal", "scale": {"domain": ["start", "end"], "range": ["#FF00FF", "#00FF00"]}}
          }
        }
      ]
    }
  ]
}
